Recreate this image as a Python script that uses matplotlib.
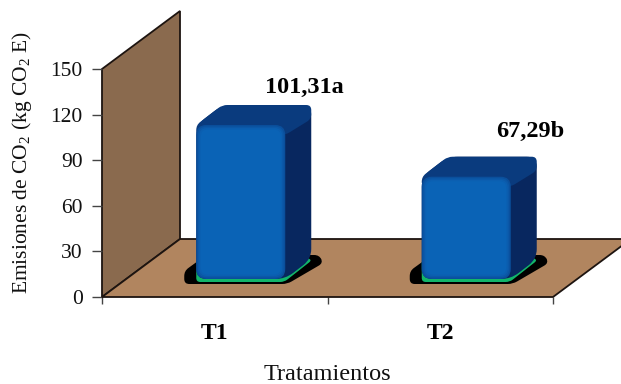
import numpy as np
import matplotlib
matplotlib.use("Agg")
import matplotlib.pyplot as plt
from matplotlib.patches import PathPatch, Polygon
from matplotlib.path import Path

plt.rcParams["font.family"] = ["Liberation Serif", "DejaVu Serif"]
plt.rcParams["mathtext.fontset"] = "custom"
plt.rcParams["mathtext.rm"] = "Liberation Serif"

categories = ["T1", "T2"]
values = [101.31, 67.29]
value_labels = ["101,31a", "67,29b"]
y_ticks = [0, 30, 60, 90, 120, 150]

W, H = 621, 384
LEFT, RIGHT, BOTTOM, TOP = 102, 553, 297, 69
LABEL_LIFT = [38, 45]

WALL = "#8a6a4e"
FLOOR = "#b1855f"
EDGE = "#1d1410"
TICK = "#444444"
TEXT = "#111111"

fig = plt.figure(figsize=(W / 100, H / 100), dpi=100)
ax = fig.add_axes([LEFT / W, 1 - BOTTOM / H, (RIGHT - LEFT) / W, (BOTTOM - TOP) / H])
ax.set_xlim(0, len(categories))
ax.set_ylim(y_ticks[0], y_ticks[-1])

# pixels per data unit, used to keep the bevels round
SX = (RIGHT - LEFT) / len(categories)
SY = (BOTTOM - TOP) / y_ticks[-1]
DX, DY = 78 / SX, 58 / SY


def rounded(points, radius):
    """Closed path through pixel-space points with rounded corners, mapped to data units."""
    pts = [np.array(p, dtype=float) for p in points]
    verts, codes = [], []
    n = len(pts)
    for i in range(n):
        prev, cur, nxt = pts[i - 1], pts[i], pts[(i + 1) % n]
        a = cur + (prev - cur) / np.linalg.norm(prev - cur) * radius
        b = cur + (nxt - cur) / np.linalg.norm(nxt - cur) * radius
        verts += [a, cur, b]
        codes += [Path.MOVETO if i == 0 else Path.LINETO, Path.CURVE3, Path.CURVE3]
    verts.append(verts[0])
    codes.append(Path.CLOSEPOLY)
    verts = np.array(verts) / [SX, SY]
    return Path(verts, codes)


def shifted(path, x, y):
    return Path(path.vertices + [x, y], path.codes)


def draw_bar(cx, value):
    # bar sits a quarter of the way back on the floor
    x0, y0 = cx + 26 / SX, 18 / SY
    w, d_x, d_y = 89, 26, 20
    h = value * SY
    hw = w / 2

    shadow = rounded([(-hw - 12, -5), (hw + 2, -5), (hw + d_x + 12, 16),
                      (hw + d_x + 8, 24), (-hw + 10, 24), (-hw - 12, 8)], 5)
    ax.add_patch(PathPatch(shifted(shadow, x0, y0), fc="black", ec="none", clip_on=False, zorder=3))
    green = rounded([(-hw, -3), (hw - 1, -3), (hw + d_x + 1, 19),
                     (hw + d_x - 6, 22), (-hw, 20)], 4)
    ax.add_patch(PathPatch(shifted(green, x0, y0), fc="#12b56a", ec="none", clip_on=False, zorder=4))

    body = rounded([(-hw, 0), (hw, 0), (hw + d_x, d_y), (hw + d_x, h + d_y),
                    (-hw + d_x, h + d_y), (-hw, h)], 10)
    ax.add_patch(PathPatch(shifted(body, x0, y0), fc="#08275f", ec="none", clip_on=False, zorder=5))
    top = rounded([(-hw, h - 10), (hw, h - 10), (hw + d_x, h + d_y - 14),
                   (hw + d_x, h + d_y), (-hw + d_x, h + d_y), (-hw, h)], 5)
    ax.add_patch(PathPatch(shifted(top, x0, y0), fc="#0a3b7e", ec="none", clip_on=False, zorder=6))

    # front face, stacked insets give the pillow shading
    shades = ["#0a4f9c", "#0b58a8", "#0b5fb1", "#0a63b6"]
    for i, c in enumerate(shades):
        inset = i * 1.5
        front = rounded([(-hw + inset, inset), (hw - inset, inset),
                         (hw - inset, h - inset), (-hw + inset, h - inset)], 10 - i)
        ax.add_patch(PathPatch(shifted(front, x0, y0), fc=c, ec="none", clip_on=False, zorder=7 + i))


# back wall and floor
ax.add_patch(Polygon([(0, 0), (0, y_ticks[-1]), (DX, y_ticks[-1] + DY), (DX, DY)],
                     closed=True, fc=WALL, ec=EDGE, lw=1.3, clip_on=False, zorder=1))
ax.add_patch(Polygon([(0, 0), (len(categories), 0), (len(categories) + DX, DY), (DX, DY)],
                     closed=True, fc=FLOOR, ec=EDGE, lw=1.3, clip_on=False, zorder=2))

centers = np.arange(len(categories)) + 0.5
for cx, v in zip(centers, values):
    draw_bar(cx, v)

for cx, v, label, lift in zip(centers, values, value_labels, LABEL_LIFT):
    ax.annotate(label, (cx, v), xytext=(90, 18 + lift), textcoords="offset pixels",
                ha="center", va="center", fontsize=17.5, fontweight="bold", zorder=12,
                color="black", annotation_clip=False)

for s in ax.spines.values():
    s.set_visible(False)
ax.patch.set_visible(False)

ax.set_yticks(y_ticks)
ax.set_yticklabels([str(t) for t in y_ticks], fontsize=15.5, color=TEXT)
ax.set_xticks(np.arange(len(categories) + 1))
ax.set_xticklabels([])
ax.set_xticks(centers, minor=True)
ax.set_xticklabels(categories, minor=True, fontsize=17, fontweight="bold", color="black")
ax.tick_params(axis="y", length=7, width=1, color=TICK, pad=7)
ax.tick_params(axis="x", which="major", length=5, width=1, color=TICK)
ax.tick_params(axis="x", which="minor", length=0, pad=19)

fig.text(22 / W, 1 - 162 / H, "Emisiones de CO$_2$ (kg CO$_2$ E)", rotation=90,
         ha="center", va="center", fontsize=15.5, color=TEXT)
fig.text(327 / W, 1 - 374 / H, "Tratamientos", ha="center", va="center", fontsize=17.5, color=TEXT)

fig.savefig("out.png", dpi=100)
